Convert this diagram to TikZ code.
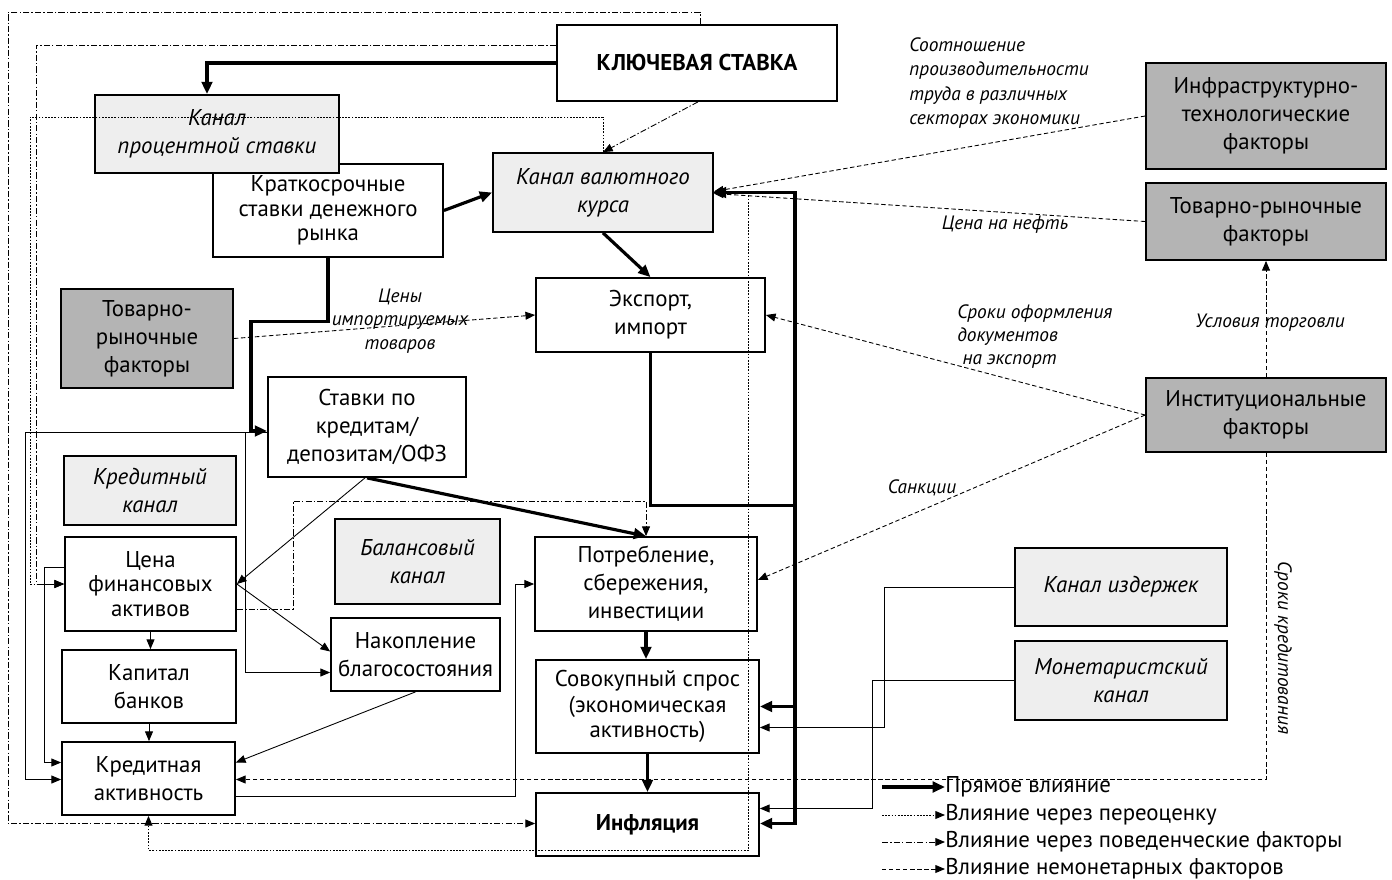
\documentclass[tikz,border=0pt]{standalone}
\usepackage{fontspec}
\setmainfont{PT Sans}
\usepackage{tikz}
\usetikzlibrary{arrows.meta,calc}

\definecolor{chanfill}{HTML}{EEEEEE}
\definecolor{factfill}{HTML}{B4B4B4}

\begin{document}
\begin{tikzpicture}[x=0.02cm,y=-0.02cm,
  box/.style={draw,line width=1pt,fill=white,align=center,inner sep=1pt,font=\fontsize{13}{16}\selectfont},
  chan/.style={box,fill=chanfill,font=\fontsize{13}{16}\selectfont\itshape},
  fact/.style={box,fill=factfill},
  sz/.style 2 args={minimum width=#1*0.02cm,minimum height=#2*0.02cm},
  tip/.style={-{Triangle[length=5.5pt,width=4.5pt]}},
  direct/.style={line width=1.8pt,-{Triangle[length=7pt,width=6pt]}},
  plain/.style={line width=0.5pt,tip},
  reval/.style={line width=0.5pt,dash pattern=on 1pt off 0.8pt,tip},
  behav/.style={line width=0.5pt,dash pattern=on 3.5pt off 1.2pt on 0.8pt off 1.2pt,tip},
  nonmon/.style={line width=0.5pt,dash pattern=on 2.5pt off 1.5pt,tip},
  lbl/.style={font=\fontsize{11}{14}\selectfont\itshape,inner sep=0pt},
  leg/.style={anchor=west,inner sep=0pt,font=\fontsize{13}{16}\selectfont}]
  \fill[white] (0,0) rectangle (1392,879);
  \useasboundingbox (0,0) rectangle (1392,879);

  % monetary side
  \node[box,sz={280}{76},font=\fontsize{13}{16}\selectfont\bfseries] (key) at (697,63) {КЛЮЧЕВАЯ СТАВКА};
  \node[box,sz={230}{93},font=\fontsize{13}{14}\selectfont] (short) at (328,210.5) {Краткосрочные\\ставки денежного\\рынка};
  \node[chan,sz={244}{78}] (ir) at (217,134) {Канал\\процентной ставки};
  \node[chan,sz={220}{79}] (fx) at (603,192.5) {Канал валютного\\курса};
  \node[box,sz={229}{74}] (exim) at (650.5,315) {Экспорт,\\импорт};
  \node[fact,sz={172}{99}] (tovl) at (147,338.5) {Товарно-\\рыночные\\факторы};
  \node[box,sz={198}{100}] (rates) at (367,427) {Ставки по\\кредитам/\\депозитам/ОФЗ};
  \node[chan,sz={172}{69}] (cred) at (150,490.5) {Кредитный\\канал};
  \node[box,sz={171}{94},font=\fontsize{13}{14}\selectfont] (fin) at (150.5,584) {Цена\\финансовых\\активов};
  \node[chan,sz={165}{85}] (bal) at (417.5,561.5) {Балансовый\\канал};
  \node[box,sz={222}{94}] (cons) at (646,584) {Потребление,\\сбережения,\\инвестиции};
  \node[box,sz={169}{73}] (wealth) at (415.5,654.5) {Накопление\\благосостояния};
  \node[box,sz={174}{73}] (cap) at (149,686.5) {Капитал\\банков};
  \node[box,sz={223}{93},font=\fontsize{13}{14.5}\selectfont] (demand) at (647.5,706.5) {Совокупный спрос\\(экономическая\\активность)};
  \node[box,sz={173}{73}] (credact) at (148.5,778.5) {Кредитная\\активность};
  \node[box,sz={223}{63},font=\fontsize{13}{16}\selectfont\bfseries] (infl) at (647.5,824.5) {Инфляция};

  % non-monetary side
  \node[fact,sz={240}{106}] (infra) at (1266,116) {Инфраструктурно-\\технологические\\факторы};
  \node[fact,sz={240}{77}] (tovr) at (1266,221.5) {Товарно-рыночные\\факторы};
  \node[fact,sz={240}{74}] (inst) at (1266,415) {Институциональные\\факторы};
  \node[chan,sz={212}{78}] (cost) at (1121,587) {Канал издержек};
  \node[chan,sz={212}{79}] (monet) at (1121,680.5) {Монетаристский\\канал};

  % labels
  \node[lbl,anchor=north west,align=left] (prodlbl) at (909,37) {Соотношение\\производительности\\труда в различных\\секторах экономики};
  \node[lbl] (oillbl) at (1005,225) {Цена на нефть};
  \node[lbl,anchor=north west,align=left,font=\fontsize{11}{13.3}\selectfont\itshape] (doclbl) at (957,304) {Сроки оформления\\документов\\\ на экспорт};
  \node[lbl] (tradelbl) at (1270,323) {Условия торговли};
  \node[lbl] (sanclbl) at (922,488) {Санкции};
  \node[lbl,align=center,font=\fontsize{11}{13.5}\selectfont\itshape] (implbl) at (400,321) {Цены\\импортируемых\\товаров};
  \node[lbl,rotate=-90] (termlbl) at (1283,648) {Сроки кредитования};

  % direct
  \draw[direct] (key.west) -| ($(ir.north)+(-10,0)$);
  \draw[direct] (short.east) -- (fx.west);
  \draw[direct] (fx.south) -- (exim.north);
  \draw[direct] (short.south) -- ++(0,64) -- ++(-77,0) |- ($(rates.west)+(0,4)$);
  \draw[direct] (rates.south) -- (cons.north);
  \draw[line width=1.8pt,line cap=rect] (exim.south) -- ++(0,153) -- ++(144.5,0) coordinate (bus);
  \draw[direct] (bus) |- (fx.east);
  \draw[direct] (bus) |- (demand.east);
  \draw[direct] (bus) |- ($(infl.east)+(0,-1)$);
  \draw[direct] (cons.south) -- (cons.south |- demand.north);
  \draw[direct] (demand.south) -- (infl.north);

  % plain
  \draw[plain] ($(rates.south)+(-2,0)$) -- (fin.east);
  \draw[plain] (fin.east) -- ($(wealth.west)+(0,-3)$);
  \draw[plain] ($(rates.west)+(0,5)$) -- ++(-242,0) |- ($(credact.west)+(0,1)$);
  \draw[plain] ($(rates.west)+(-22,5)$) |- ($(wealth.west)+(0,18)$);
  \draw[plain] (fin.south) -- (fin.south |- cap.north);
  \draw[plain] (cap.south) -- (cap.south |- credact.north);
  \draw[plain] (wealth.south) -- ($(credact.east)+(0,-16)$);
  \draw[plain] ($(credact.east)+(0,18)$) -- ++(280,0) |- (cons.west);
  \draw[plain] ($(fin.west)+(0,-17)$) -- ++(-20,0) |- ($(credact.west)+(0,-16)$);
  \draw[plain] (cost.west) -- ++(-130,0) |- ($(demand.east)+(0,21)$);
  \draw[plain] (monet.west) -- ++(-142,0) |- ($(infl.east)+(0,-16)$);

  % revaluation
  \draw[reval] (fx.north) -- ++(0,-35) -- ++(-573,0) |- (fin.west);
  \draw[reval] (fx.east) -- ++(35,0) -- ++(0,657.5) -| (credact.south);

  % behavioural
  \draw[behav] ($(key.west)+(0,-18)$) -- ++(-520,0) |- (fin.west);
  \draw[behav] ($(key.north)+(3,0)$) -- ++(0,-12) -- ++(-692,0) |- ($(infl.west)+(0,-1)$);
  \draw[behav] ($(key.south)+(1,0)$) -- (fx.north);
  \draw[behav] ($(fin.east)+(0,25)$) -| ($(cons.north)+(-353,-35)$) -| (cons.north);

  % non-monetary
  \draw[nonmon] (tovl.east) -- (exim.west);
  \draw[nonmon] (infra.west) -- ($(fx.east)+(0,-1)$);
  \draw[nonmon] (tovr.west) -- ($(fx.east)+(0,1)$);
  \draw[nonmon] (inst.west) -- (exim.east);
  \draw[nonmon] (inst.west) -- ($(cons.east)+(0,-4)$);
  \draw[nonmon] (inst.north) -- (tovr.south);
  \draw[nonmon] (inst.south) |- ($(credact.east)+(0,1)$);

  % legend
  \node[leg] (leg1) at (945,787) {Прямое влияние};
  \node[leg] (leg2) at (945,815) {Влияние через переоценку};
  \node[leg] (leg3) at (945,842) {Влияние через поведенческие факторы};
  \node[leg] (leg4) at (945,869) {Влияние немонетарных факторов};
  \draw[direct] ($(leg1.west)+(-63,0)$) -- (leg1.west);
  \draw[reval] ($(leg2.west)+(-63,0)$) -- (leg2.west);
  \draw[behav] ($(leg3.west)+(-63,0)$) -- (leg3.west);
  \draw[nonmon] ($(leg4.west)+(-63,0)$) -- (leg4.west);
\end{tikzpicture}
\end{document}
